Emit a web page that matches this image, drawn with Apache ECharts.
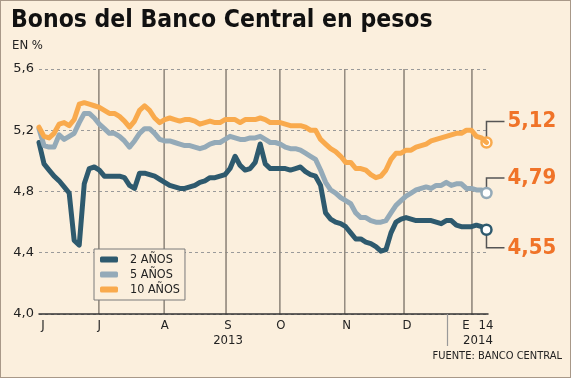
<!DOCTYPE html>
<html><head><meta charset="utf-8">
<script src="https://cdn.jsdelivr.net/npm/echarts@6/dist/echarts.min.js"></script>
<style>html,body{margin:0;padding:0;background:#FBEFDD}#c{width:571px;height:378px}
#frame{position:absolute;left:0;top:0;width:571px;height:378px;box-sizing:border-box;border:1px solid #A89888;pointer-events:none}</style>
</head><body><div id="c"></div><div id="frame"></div>
<script>
// ---- data ----
const seriesNames = ['2 AÑOS', '5 AÑOS', '10 AÑOS'];
const bono2 = [
5.12,4.98,4.94,4.90,4.87,4.83,4.79,4.48,4.45,4.85,
4.95,4.96,4.94,4.90,4.90,4.90,4.90,4.89,4.84,4.82,
4.92,4.92,4.91,4.90,4.88,4.86,4.84,4.83,4.82,4.82,
4.83,4.84,4.86,4.87,4.89,4.89,4.90,4.91,4.95,5.03,
4.97,4.94,4.95,4.99,5.11,4.98,4.95,4.95,4.95,4.95,
4.94,4.95,4.96,4.93,4.91,4.90,4.84,4.66,4.62,4.60,
4.59,4.57,4.53,4.49,4.49,4.47,4.46,4.44,4.41,4.42,
4.53,4.60,4.62,4.63,4.62,4.61,4.61,4.61,4.61,4.60,
4.59,4.61,4.61,4.58,4.57,4.57,4.57,4.58,4.57,4.55];
const bono5 = [
5.21,5.10,5.09,5.09,5.17,5.14,5.16,5.18,5.25,5.31,
5.31,5.28,5.24,5.21,5.18,5.18,5.16,5.13,5.09,5.13,
5.18,5.21,5.21,5.18,5.14,5.13,5.13,5.12,5.11,5.10,
5.10,5.09,5.08,5.09,5.11,5.12,5.12,5.14,5.16,5.15,
5.14,5.14,5.15,5.15,5.16,5.14,5.12,5.12,5.11,5.09,
5.08,5.08,5.07,5.05,5.03,5.01,4.94,4.86,4.81,4.79,
4.76,4.74,4.72,4.66,4.63,4.63,4.61,4.60,4.60,4.61,
4.66,4.71,4.74,4.77,4.79,4.81,4.82,4.83,4.82,4.84,
4.84,4.86,4.84,4.85,4.85,4.82,4.82,4.81,4.81,4.79];
const bono10 = [
5.22,5.16,5.15,5.18,5.24,5.25,5.23,5.27,5.37,5.38,
5.37,5.36,5.35,5.33,5.31,5.31,5.29,5.26,5.22,5.26,
5.33,5.36,5.33,5.28,5.25,5.27,5.28,5.27,5.26,5.27,
5.27,5.26,5.24,5.25,5.26,5.25,5.25,5.27,5.27,5.27,
5.25,5.27,5.27,5.27,5.28,5.27,5.25,5.25,5.25,5.24,
5.23,5.23,5.23,5.22,5.20,5.20,5.14,5.11,5.08,5.06,
5.03,4.99,4.99,4.95,4.95,4.94,4.91,4.89,4.90,4.94,
5.01,5.05,5.05,5.07,5.07,5.09,5.10,5.11,5.13,5.14,
5.15,5.16,5.17,5.18,5.18,5.20,5.20,5.16,5.15,5.12];
const endLabels = ['4,55', '4,79', '5,12'];
const monthLabels = ['J', 'J', 'A', 'S', 'O', 'N', 'D', 'E', '14'];
const monthLabelPos = [0.8, 12, 25, 37.6, 48.1, 61.2, 73.2, 84.9, 88.9];
const monthLinePos = [11.9, 24.9, 37.2, 47.9, 60.8, 72.6, 86.1];
const yearLabels = ['2013', '2014'];
const yearLabelPos = [37.6, 87.3];
const yearDividerPos = [81.1];
const yMin = 4.0, yMax = 5.6, yStep = 0.4;
const xMax = 89.3;

// ---- styles ----
const colors = ['#2E5A6E', '#94AAB8', '#F9AA4D'];
const labelColor = '#F07328';
const gridLineColor = '#958C80';
const connectorDy = [18, -15, -21];
const F = 'DejaVu Sans Condensed';

const chart = echarts.init(document.getElementById('c'), null, {renderer: 'canvas'});
const allData = [bono2, bono5, bono10];

function pickLabel(list, pos) {
  return function (v) {
    const k = pos.findIndex(p => Math.abs(p - v) < 1e-6);
    return k >= 0 ? list[k] : '';
  };
}

// month separators as thin two-point line series, behind the data lines
const series = monthLinePos.map((v, j) => ({
  name: 'sep' + j,
  type: 'line',
  z: 2,
  data: [[v, yMin], [v, yMax]],
  showSymbol: false,
  symbol: 'none',
  lineStyle: {color: gridLineColor, width: 1.2},
  silent: true
}));

allData.forEach((d, k) => series.push({
  name: seriesNames[k],
  type: 'line',
  z: 3 + k,
  data: d.map((v, i) => [i, v]),
  showSymbol: false,
  symbol: 'none',
  color: colors[k],
  lineStyle: {color: colors[k], width: 5, cap: 'round', join: 'round'},
  emphasis: {disabled: true},
  markPoint: {
    silent: true,
    symbol: 'circle',
    symbolSize: 10,
    itemStyle: {color: '#ffffff', borderColor: colors[k], borderWidth: 2.5},
    label: {show: false},
    data: [{coord: [d.length - 1, d[d.length - 1]]}]
  }
}));

const option = {
  animation: false,
  backgroundColor: '#FBEFDD',
  title: [
    {text: 'Bonos del Banco Central en pesos', left: 11, top: 8, padding: 0,
     textStyle: {fontFamily: F, fontWeight: 'bold', fontSize: 24.5, color: '#111'}},
    {text: 'EN %', left: 12, top: 39, padding: 0,
     textStyle: {fontFamily: F, fontWeight: 'normal', fontSize: 13, color: '#222'}},
    {text: 'FUENTE: BANCO CENTRAL', right: 9, top: 351, padding: 0,
     textStyle: {fontFamily: F, fontWeight: 'normal', fontSize: 11, color: '#222'}}
  ],
  grid: {left: 39, right: 83, top: 69, bottom: 64, containLabel: false},
  legend: {
    data: seriesNames,
    orient: 'vertical',
    left: 94, top: 249,
    padding: [4, 5, 4, 6],
    itemGap: 2,
    itemWidth: 18, itemHeight: 6,
    icon: 'roundRect',
    borderColor: '#7A7A7A', borderWidth: 1,
    backgroundColor: '#FBEFDD',
    selectedMode: false,
    z: 20,
    textStyle: {fontFamily: F, fontSize: 12.5, color: '#222', padding: [0, 0, 0, 7], lineHeight: 13}
  },
  xAxis: [{
    type: 'value', min: 0, max: xMax,
    axisLine: {show: true, lineStyle: {color: '#333', width: 1.5}},
    axisTick: {show: true, customValues: yearDividerPos, length: 32, lineStyle: {color: '#999', width: 1.2}},
    axisLabel: {customValues: monthLabelPos, formatter: pickLabel(monthLabels, monthLabelPos),
      margin: 5, fontFamily: F, fontSize: 13, color: '#222'},
    splitLine: {show: false},
    z: 5
  }, {
    type: 'value', min: 0, max: xMax, position: 'bottom', offset: 15,
    axisLine: {show: false}, axisTick: {show: false},
    axisLabel: {customValues: yearLabelPos, formatter: pickLabel(yearLabels, yearLabelPos),
      margin: 5, fontFamily: F, fontSize: 13, color: '#222'},
    splitLine: {show: false}
  }],
  yAxis: {
    type: 'value', min: yMin, max: yMax, interval: yStep,
    axisLine: {show: false}, axisTick: {show: false},
    axisLabel: {formatter: v => v.toFixed(1).replace('.', ','), margin: 5,
      fontFamily: 'DejaVu Sans', fontSize: 13, color: '#222'},
    splitLine: {show: true, lineStyle: {color: '#9A9A9A', width: 1, type: [3, 3]}}
  },
  series: series
};
chart.setOption(option);

// month separators (also as graphics), connector lines and end values, placed through the chart's scales
const graphics = [];
monthLinePos.forEach(v => {
  const a = chart.convertToPixel({xAxisIndex: 0, yAxisIndex: 0}, [v, yMax]);
  const b = chart.convertToPixel({xAxisIndex: 0, yAxisIndex: 0}, [v, yMin]);
  graphics.push({
    type: 'line', z: 1,
    shape: {x1: a[0], y1: a[1], x2: b[0], y2: b[1]},
    style: {stroke: gridLineColor, lineWidth: 1.2}
  });
});
allData.forEach((d, k) => {
  const last = d.length - 1;
  const p = chart.convertToPixel({xAxisIndex: 0, yAxisIndex: 0}, [last, d[last]]);
  const yy = p[1] + connectorDy[k];
  graphics.push({
    type: 'polyline', z: 0,
    shape: {points: [[p[0], p[1]], [p[0], yy], [p[0] + 18, yy]]},
    style: {fill: 'none', stroke: '#555', lineWidth: 1.5}
  });
  graphics.push({
    type: 'text', z: 10,
    x: p[0] + 21, y: yy,
    style: {text: endLabels[k], fill: labelColor, font: 'bold 22px "DejaVu Sans Condensed"',
      textVerticalAlign: 'middle', verticalAlign: 'middle'}
  });
});
chart.setOption({graphic: graphics});
</script>
</body></html>
